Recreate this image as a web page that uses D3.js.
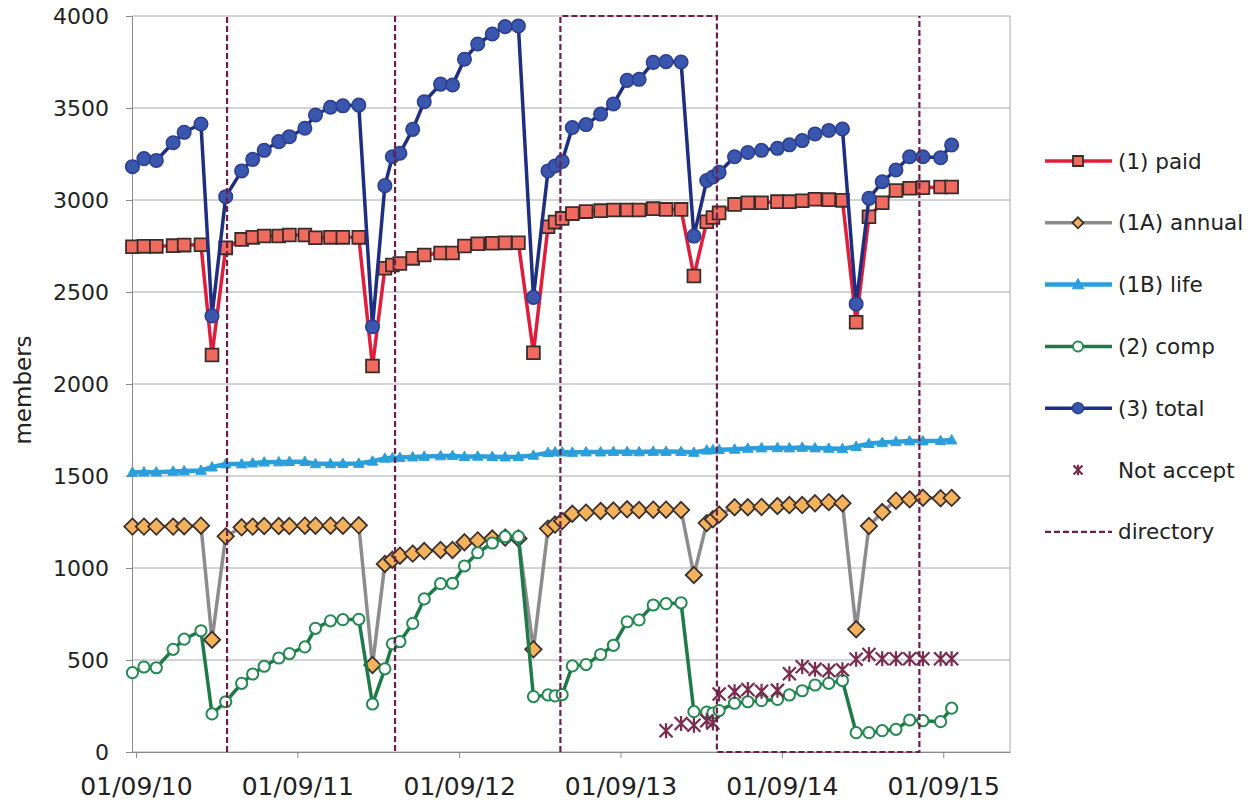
<!DOCTYPE html>
<html>
<head>
<meta charset="utf-8">
<script src="https://cdn.jsdelivr.net/npm/d3@7"></script>
<style>
  html, body { margin: 0; padding: 0; background: #ffffff; }
  svg { display: block; font-family: "DejaVu Sans", Verdana, sans-serif; }
</style>
</head>
<body>
<svg id="chart" width="1257" height="805"></svg>
<script>
// Monthly membership counts
const dates = [
  "2010-08-24","2010-09-19","2010-10-17","2010-11-24","2010-12-19","2011-01-26","2011-02-20","2011-03-23",
  "2011-04-28","2011-05-23","2011-06-18","2011-07-21","2011-08-14","2011-09-18","2011-10-12","2011-11-15",
  "2011-12-13","2012-01-18","2012-02-18","2012-03-17","2012-04-03","2012-04-20","2012-05-19","2012-06-14",
  "2012-07-21","2012-08-17","2012-09-13","2012-10-13","2012-11-15","2012-12-14","2013-01-13","2013-02-16",
  "2013-03-21","2013-04-06","2013-04-22","2013-05-15","2013-06-15","2013-07-18","2013-08-16","2013-09-16",
  "2013-10-13","2013-11-14","2013-12-13","2014-01-16","2014-02-14","2014-03-15","2014-03-29","2014-04-12",
  "2014-05-17","2014-06-16","2014-07-17","2014-08-22","2014-09-18","2014-10-17","2014-11-15","2014-12-16",
  "2015-01-16","2015-02-16","2015-03-17","2015-04-16","2015-05-17","2015-06-17","2015-07-17","2015-08-26",
  "2015-09-20"
];

const paid = [
  2746,2748,2748,2752,2755,2757,2158,2740,2786,2797,2804,2804,2810,2810,2795,2797,
  2797,2797,2098,2629,2647,2655,2683,2701,2712,2712,2750,2762,2765,2767,2768,2170,
  2855,2880,2900,2926,2937,2942,2946,2946,2946,2953,2949,2949,2587,2882,2905,2930,
  2976,2985,2985,2991,2991,2996,3004,3002,2998,2336,2909,2985,3052,3064,3067,3071,
  3071
];

const annual = [
  1225,1225,1225,1225,1227,1230,610,1172,1221,1225,1228,1228,1228,1230,1230,1230,
  1230,1232,473,1022,1045,1067,1078,1092,1098,1098,1140,1150,1160,1165,1161,558,
  1214,1236,1255,1295,1301,1310,1312,1319,1315,1317,1317,1315,962,1244,1265,1290,
  1330,1330,1332,1337,1342,1342,1352,1358,1352,667,1228,1304,1366,1373,1382,1379,
  1381
];

const life = [
  1520,1521,1521,1525,1527,1530,1548,1565,1565,1570,1575,1576,1578,1578,1566,1566,
  1567,1568,1580,1596,1598,1600,1603,1606,1609,1610,1605,1607,1605,1603,1605,1612,
  1627,1630,1630,1628,1630,1630,1632,1632,1631,1633,1633,1632,1628,1640,1642,1643,
  1645,1650,1652,1653,1652,1655,1652,1650,1648,1660,1676,1682,1686,1690,1690,1692,
  1695
];

const comp = [
  431,462,458,558,613,659,207,273,373,424,466,511,535,571,672,713,
  719,721,261,452,588,600,699,832,915,917,1011,1083,1136,1170,1170,301,
  310,305,312,468,475,530,580,708,718,799,806,811,219,217,212,225,
  265,273,279,286,310,333,364,373,388,105,105,116,123,174,170,165,
  238
];

const total = [
  3181,3225,3215,3311,3368,3413,2370,3018,3158,3221,3270,3317,3344,3390,3462,3504,
  3512,3516,2311,3078,3235,3254,3384,3534,3630,3625,3765,3848,3902,3942,3946,2471,
  3158,3185,3210,3394,3410,3467,3522,3650,3656,3748,3752,3750,2804,3106,3125,3150,
  3235,3258,3270,3281,3300,3323,3359,3378,3386,2435,3009,3099,3163,3235,3235,3230,
  3299
];

const notAccept = [
  null,null,null,null,null,null,null,null,null,null,null,null,null,null,null,null,
  null,null,null,null,null,null,null,null,null,null,null,null,null,null,null,null,
  null,null,null,null,null,null,null,null,null,null,115,155,145,170,158,315,
  328,340,330,335,425,463,449,442,447,504,530,507,507,507,507,507,
  507
];

// Directory publication markers (null breaks the line)
const directoryDates  = ["2011-03-26","2011-03-26",null,"2012-04-09","2012-04-09",null,
                         "2013-04-18","2013-04-18","2014-04-07","2014-04-07","2015-07-09","2015-07-09"];
const directoryValues = [0,4000,null,4000,0,null,0,4000,4000,0,0,4000];

const yTicks = [0,500,1000,1500,2000,2500,3000,3500,4000];
const xTicks = ["2010-09-01","2011-09-01","2012-09-01","2013-09-01","2014-09-01","2015-09-01"];
const xDomain = ["2010-08-23","2016-01-30"];
const yLabel = "members";

const parse = d3.timeParse("%Y-%m-%d");
const fmt = d3.timeFormat("%d/%m/%y");

// Plot area
const L = 132, R = 1010, T = 16, B = 752;

const svg = d3.select("#chart");

const x = d3.scaleTime().domain(xDomain.map(parse)).range([L, R]);
const y = d3.scaleLinear().domain([0, 4000]).range([B, T]);

// Gridlines
svg.append("g")
  .selectAll("line")
  .data(yTicks)
  .join("line")
  .attr("x1", L).attr("x2", R)
  .attr("y1", d => y(d)).attr("y2", d => y(d))
  .attr("stroke", "#a8a8a8").attr("stroke-width", 1);

// Right border of the plot
svg.append("line")
  .attr("x1", R).attr("x2", R).attr("y1", T).attr("y2", B)
  .attr("stroke", "#a8a8a8").attr("stroke-width", 1);

// Y axis
const yAxis = d3.axisLeft(y).tickValues(yTicks).tickSize(6).tickPadding(17).tickFormat(d3.format("d"));
const gy = svg.append("g").attr("transform", `translate(${L},0)`).call(yAxis);
gy.select(".domain").attr("stroke", "#8a8a8a");
gy.selectAll(".tick line").attr("stroke", "#8a8a8a");
gy.selectAll("text").attr("font-size", 22).attr("fill", "#222")
  .attr("font-family", "DejaVu Sans, Verdana, sans-serif");

// X axis
const xAxis = d3.axisBottom(x).tickValues(xTicks.map(parse)).tickSize(6).tickSizeOuter(0)
  .tickPadding(19).tickFormat(fmt);
const gx = svg.append("g").attr("transform", `translate(0,${B})`).call(xAxis);
gx.select(".domain").attr("stroke", "#8a8a8a");
gx.selectAll(".tick line").attr("stroke", "#8a8a8a");
gx.selectAll("text").attr("font-size", 25).attr("fill", "#222")
  .attr("font-family", "DejaVu Sans, Verdana, sans-serif");

// Y axis title
svg.append("text")
  .attr("transform", `translate(31,390) rotate(-90)`)
  .attr("text-anchor", "middle")
  .attr("font-size", 23).attr("fill", "#222")
  .text(yLabel);

// Marker shapes
const markers = {
  square:   s => `M${-s},${-s}H${s}V${s}H${-s}Z`,
  diamond:  s => `M0,${-s}L${s},0L0,${s}L${-s},0Z`,
  triangle: s => `M0,${-s}L${s*0.95},${s*0.7}L${-s*0.95},${s*0.7}Z`,
  circle:   s => `M${-s},0A${s},${s} 0 1,0 ${s},0A${s},${s} 0 1,0 ${-s},0Z`,
  asterisk: s => `M${-s},${-s}L${s},${s}M${-s},${s}L${s},${-s}M0,${-s*1.15}L0,${s*1.15}`
};

const series = [
  { name: "(1) paid",     values: paid,      line: "#e11d3c", lw: 3.5, shape: "square",   size: 6.4, fill: "#ef6b5e", stroke: "#3b2c2c", sw: 1.8, lsize: 5 },
  { name: "(1A) annual",  values: annual,    line: "#8c8c8c", lw: 3.5, shape: "diamond",  size: 8.2, fill: "#f4b25c", stroke: "#3a3030", sw: 1.8, lsize: 5.5 },
  { name: "(1B) life",    values: life,      line: "#2b9fdc", lw: 4.5, shape: "triangle", size: 5.5, fill: "#2b9fdc", stroke: "#2b9fdc", sw: 1,   lsize: 6 },
  { name: "(2) comp",     values: comp,      line: "#1f7a49", lw: 3.5, shape: "circle",   size: 5.6, fill: "#ffffff", stroke: "#238a52", sw: 2,   lsize: 5 },
  { name: "(3) total",    values: total,     line: "#1e2e80", lw: 3.5, shape: "circle",   size: 6.8, fill: "#3a56ad", stroke: "#2a3e92", sw: 1.5, lsize: 5.5 },
  { name: "Not accept",   values: notAccept, line: null,      lw: 0,   shape: "asterisk", size: 6.5, fill: "none",    stroke: "#7a2b4e", sw: 2.2, lsize: 4.5 }
];

const parsedDates = dates.map(parse);

series.forEach(s => {
  const pts = s.values.map((v, i) => ({ d: parsedDates[i], v })).filter(p => p.v != null);
  const g = svg.append("g");
  if (s.line) {
    g.append("path")
      .datum(pts)
      .attr("fill", "none")
      .attr("stroke", s.line)
      .attr("stroke-width", s.lw)
      .attr("stroke-linejoin", "round")
      .attr("d", d3.line().x(p => x(p.d)).y(p => y(p.v)));
  }
  g.selectAll("path.mk")
    .data(pts)
    .join("path")
    .attr("class", "mk")
    .attr("transform", p => `translate(${x(p.d)},${y(p.v)})`)
    .attr("d", markers[s.shape](s.size))
    .attr("fill", s.fill)
    .attr("stroke", s.stroke)
    .attr("stroke-width", s.sw);
});

// Directory dashed line
const dirPts = directoryDates.map((d, i) => ({ d: d ? parse(d) : null, v: directoryValues[i] }));
svg.append("path")
  .datum(dirPts)
  .attr("fill", "none")
  .attr("stroke", "#6d1f4b")
  .attr("stroke-width", 2.2)
  .attr("stroke-dasharray", "6,3")
  .attr("d", d3.line().defined(p => p.d != null && p.v != null).x(p => x(p.d)).y(p => y(p.v)));

// Legend
const legendItems = series.concat([{ name: "directory", dashed: true }]);
const lg = svg.append("g");
const lx1 = 1045, lx2 = 1112, lmx = 1078, ltx = 1118, ly0 = 161, lstep = 61.8;
legendItems.forEach((s, i) => {
  const yy = ly0 + i * lstep;
  if (s.dashed) {
    lg.append("line").attr("x1", lx1).attr("x2", lx2).attr("y1", yy).attr("y2", yy)
      .attr("stroke", "#6d1f4b").attr("stroke-width", 2.2).attr("stroke-dasharray", "6,3");
  } else {
    if (s.line) {
      lg.append("line").attr("x1", lx1).attr("x2", lx2).attr("y1", yy).attr("y2", yy)
        .attr("stroke", s.line).attr("stroke-width", s.lw);
    }
    lg.append("path")
      .attr("transform", `translate(${lmx},${yy})`)
      .attr("d", markers[s.shape](s.lsize))
      .attr("fill", s.fill).attr("stroke", s.stroke).attr("stroke-width", s.sw);
  }
  lg.append("text")
    .attr("x", ltx).attr("y", yy).attr("dy", "0.35em")
    .attr("font-size", 21.5).attr("fill", "#222")
    .text(s.name);
});
</script>
</body>
</html>
